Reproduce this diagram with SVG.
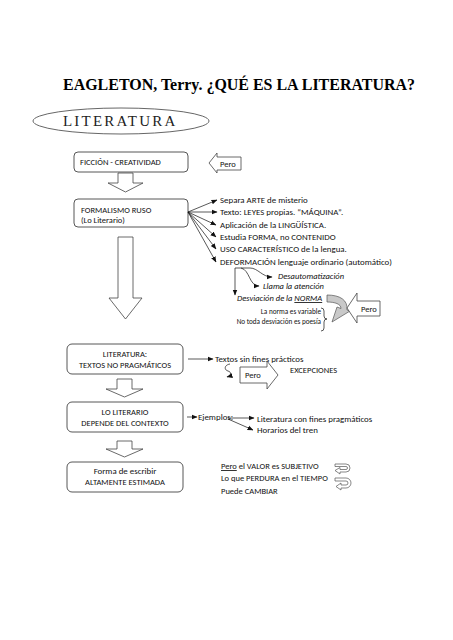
<svg xmlns="http://www.w3.org/2000/svg" width="453" height="640" viewBox="0 0 453 640">
<style>
.t{font-family:Carlito,Lato,"Liberation Sans",sans-serif;font-size:8.5px;fill:#111}
.l{font-size:8.9px}
.s{font-size:7.2px}
.i{font-style:italic}
.box{fill:#fff;stroke:#444;stroke-width:0.9}
.ha{fill:#fff;stroke:#444;stroke-width:0.8}
.ln{fill:none;stroke:#111;stroke-width:0.7}
</style>
<defs>
<marker id="ah" markerUnits="userSpaceOnUse" markerWidth="6" markerHeight="6" viewBox="0 0 6 6" refX="5.5" refY="3" orient="auto">
<path d="M0,0.6 L6,3 L0,5.4 Z" fill="#111"/>
</marker>
</defs>
<rect width="453" height="640" fill="#fff"/>

<g id="title">
<text x="63" y="90" font-family="'Liberation Serif',serif" font-weight="bold" font-size="15.8" textLength="352" lengthAdjust="spacingAndGlyphs" fill="#000">EAGLETON, Terry. ¿QUÉ ES LA LITERATURA?</text>
</g>
<g id="literatura">
<ellipse cx="121" cy="121" rx="88" ry="13" fill="#fff" stroke="#555" stroke-width="0.9"/>
<text x="63" y="126" font-family="'Liberation Serif',serif" font-size="15" letter-spacing="2.2" fill="#222">LITERATURA</text>
</g>

<g id="ficcion">
<rect class="box" x="74" y="152" width="114" height="20" rx="4"/>
<text class="t" x="80" y="165">FICCIÓN - CREATIVIDAD</text>
</g>
<g id="pero1">
<polygon class="ha" points="209,163 217,153 217,157 241,157 241,170 217,170 217,173"/>
<text class="t" x="220" y="166.5" font-size="7.5">Pero</text>
</g>
<g id="arrow1">
<polygon class="ha" points="118,173 133,173 133,183 143,183 125.5,192 108,183 118,183"/>
</g>

<g id="formalismo">
<rect class="box" x="74" y="199" width="114" height="28" rx="4"/>
<text class="t" x="81" y="213">FORMALISMO RUSO</text>
<text class="t" x="81" y="223">(Lo Literario)</text>
</g>

<g id="lista">
<text class="t l" x="220" y="203">Separa ARTE de misterio</text>
<text class="t l" x="220" y="215">Texto: LEYES propias. “MÁQUINA”.</text>
<text class="t l" x="220" y="228">Aplicación de la LINGÜÍSTICA.</text>
<text class="t l" x="220" y="240">Estudia FORMA, no CONTENIDO</text>
<text class="t l" x="220" y="252">USO CARACTERÍSTICO de la lengua.</text>
<text class="t l" x="220" y="265">DEFORMACIÓN lenguaje ordinario (automático)</text>
</g>

<g id="deformacion">
<text class="t i" x="278" y="279">Desautomatización</text>
<text class="t i" x="263" y="289">Llama la atención</text>
<text class="t i" x="237" y="301">Desviación de la <tspan text-decoration="underline">NORMA</tspan></text>
<text class="t s" x="321" y="314" text-anchor="end">La norma es variable</text>
<text class="t s" x="321" y="324" text-anchor="end">No toda desviación es poesía</text>
<path class="ln" d="M321,308 Q324,308 324,311 L324,316 Q324,319 327,319 Q324,319 324,322 L324,328 Q324,331 321,331"/>
<path d="M327,295 C340,295 348,300 347,310 L350,311 L332,322 L337,307 L341,308.5 C341,304 335,302 327,302 Z" fill="#c9c9c9" stroke="#555" stroke-width="0.7"/>
</g>
<g id="pero2">
<polygon class="ha" points="347,308 357,293 357,301 380,301 380,316 357,316 357,323"/>
<text class="t" x="361" y="311.5" font-size="9">Pero</text>
</g>

<g id="bigarrow">
<polygon class="ha" points="118,237 133,237 133,298 142,298 125.5,319 109,298 118,298"/>
</g>

<g id="literatura2">
<rect class="box" x="67" y="344" width="116" height="30" rx="5"/>
<text class="t" x="125" y="357" text-anchor="middle">LITERATURA:</text>
<text class="t" x="125" y="368" text-anchor="middle">TEXTOS NO PRAGMÁTICOS</text>
</g>
<g id="textos">
<text class="t l" x="215" y="362">Textos sin fines prácticos</text>
<text class="t" x="290" y="373">EXCEPCIONES</text>
</g>
<g id="pero3">
<polygon class="ha" points="240,367 267,367 267,361 278,375 267,389 267,383 240,383"/>
<text class="t" x="245" y="378">Pero</text>
</g>
<g id="arrow3">
<polygon class="ha" points="117,379 132,379 132,389 143,389 124.5,397 106,389 117,389"/>
</g>

<g id="contexto">
<rect class="box" x="67" y="402" width="116" height="30" rx="5"/>
<text class="t" x="125" y="415" text-anchor="middle">LO LITERARIO</text>
<text class="t" x="125" y="426" text-anchor="middle">DEPENDE DEL CONTEXTO</text>
</g>
<g id="ejemplos">
<text class="t l" x="198" y="420">Ejemplos:</text>
<text class="t l" x="257" y="422">Literatura con fines pragmáticos</text>
<text class="t l" x="257" y="433">Horarios del tren</text>
</g>
<g id="arrow4">
<polygon class="ha" points="117,441 132,441 132,449 143,449 124.5,457 106,449 117,449"/>
</g>

<g id="estimada">
<rect class="box" x="67" y="462" width="116" height="30" rx="5"/>
<text class="t l" x="125" y="474" text-anchor="middle">Forma de escribir</text>
<text class="t" x="125" y="485" text-anchor="middle">ALTAMENTE ESTIMADA</text>
</g>
<g id="valor">
<text class="t" x="221" y="469" font-size="8.6"><tspan text-decoration="underline">Pero</tspan> el VALOR es SUBJETIVO</text>
<text class="t" x="221" y="481" font-size="8.6">Lo que PERDURA en el TIEMPO</text>
<text class="t" x="221" y="494" font-size="8.6">Puede CAMBIAR</text>
<path d="M335,464 L346,464 A4,4 0 0 1 346,472 L340,472 L340,474 L335,470.5 L340,467.5 L340,469.5 L346,469.5 A1.5,1.5 0 0 0 346,466.5 L335,466.5 Z" fill="#fff" stroke="#555" stroke-width="0.7"/>
<path d="M335,478 L346,478 A5,5 0 0 1 346,488 L341,488 L341,490 L336,486.5 L341,483 L341,485 L346,485 A2,2 0 0 0 346,481 L335,481 Z" fill="#fff" stroke="#555" stroke-width="0.7"/>
</g>

<g id="connectors">
<line class="ln" x1="188" y1="212" x2="217" y2="200" marker-end="url(#ah)"/>
<line class="ln" x1="188" y1="212" x2="217" y2="212" marker-end="url(#ah)"/>
<line class="ln" x1="188" y1="212" x2="216" y2="225" marker-end="url(#ah)"/>
<line class="ln" x1="188" y1="212" x2="216" y2="237" marker-end="url(#ah)"/>
<line class="ln" x1="188" y1="212" x2="216" y2="249" marker-end="url(#ah)"/>
<line class="ln" x1="188" y1="212" x2="216" y2="262" marker-end="url(#ah)"/>
<path class="ln" d="M235,268 L250,268 C258,268 262,277 272,277" marker-end="url(#ah)"/>
<path class="ln" d="M241,268 C250,270 249,286 259,286" marker-end="url(#ah)"/>
<line class="ln" x1="235" y1="268" x2="235" y2="295" marker-end="url(#ah)"/>
<line class="ln" x1="188" y1="359" x2="213" y2="359" marker-end="url(#ah)"/>
<path class="ln" d="M230,364 C224,365 224,370 228,371 C232,372 231,376 227,377" marker-end="url(#ah)"/>
<line class="ln" x1="187" y1="417" x2="197" y2="417" marker-end="url(#ah)"/>
<line class="ln" x1="228" y1="418" x2="254" y2="418" marker-end="url(#ah)"/>
<line class="ln" x1="228" y1="419" x2="253" y2="430" marker-end="url(#ah)"/>
</g>
</svg>
